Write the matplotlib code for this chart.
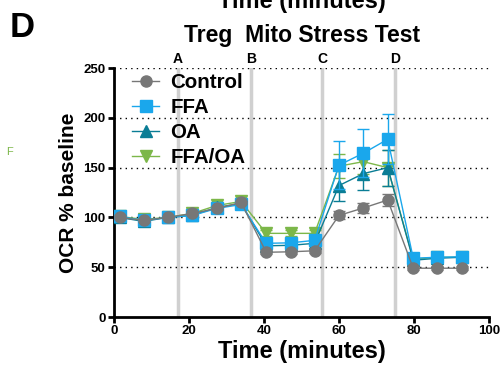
import matplotlib
matplotlib.use("Agg")
import matplotlib.pyplot as plt
from matplotlib.lines import Line2D
import numpy as np

plt.rcParams['font.family'] = ['Liberation Sans', 'DejaVu Sans']

# data
time_min = [1.5, 7.9, 14.3, 20.9, 27.4, 33.9, 40.6, 47.2, 53.5, 60.0, 66.5, 73.0, 79.8, 86.2, 92.8]
control = [100, 97, 100, 104, 109, 115, 65, 65.5, 66.5, 102, 109.5, 117.5, 49, 49, 49]
control_err = [2, 2, 0, 2, 2, 2, 2, 2, 2, 4, 5, 6, 2, 2, 2]
ffa = [101, 97, 100, 102, 109, 113, 74, 74.5, 77, 152.5, 164.5, 178.5, 59, 60, 60.5]
ffa_err = [3, 3, 0, 3, 3, 3, 4, 4, 4, 24, 24, 25, 4, 4, 4]
oa = [100, 96, 100, 102, 110, 114, 71.5, 72, 74, 132, 144, 150, 57, 59, 60]
oa_err = [2, 2, 0, 2, 2, 2, 3, 3, 3, 16, 16, 18, 3, 3, 3]
ffa_oa = [101, 98, 100, 104, 112, 116, 84, 84, 84, 151.5, 156, 150, 58, 60, 60]
ffa_oa_err = [2, 2, 0, 2, 2, 2, 3, 3, 3, 12, 12, 18, 3, 3, 3]

injections = [17.0, 36.5, 55.5, 74.9]
injection_labels = ["A", "B", "C", "D"]

fig = plt.figure(figsize=(5.01, 3.74), dpi=100)
ax = fig.add_axes([0.2275, 0.1524, 0.7485, 0.6656])

for x in injections:
    ax.axvline(x, color="#d0d0d0", lw=2.5, zorder=0)
for y in [50, 100, 150, 200, 250]:
    ax.axhline(y, color="black", lw=1, ls=(0, (1, 3)), zorder=0.5)

series = [
    ("FFA/OA", ffa_oa, ffa_oa_err, "#7cb749", "v", 1),
    ("OA", oa, oa_err, "#0a7d95", "^", 2),
    ("FFA", ffa, ffa_err, "#1aa7ec", "s", 3),
    ("Control", control, control_err, "#777777", "o", 4),
]
handles = {}
for name, vals, err, col, mk, z in series:
    ax.errorbar(time_min, vals, yerr=err, color=col, marker=mk, ms=8,
                lw=1, elinewidth=1, capsize=4, capthick=1, zorder=z + 2)
    handles[name] = Line2D([], [], color=col, marker=mk, ms=8, lw=1)

order = ["Control", "FFA", "OA", "FFA/OA"]
leg = ax.legend([handles[n] for n in order], order, loc="upper left",
                bbox_to_anchor=(0.0, 1.055), frameon=False, handlelength=1.3,
                handletextpad=0.55, labelspacing=0.3,
                prop={"weight": "bold", "size": 14.8})

ax.set_xlim(0, 100)
ax.set_ylim(0, 250)
ax.set_xticks([0, 20, 40, 60, 80, 100])
ax.set_yticks([0, 50, 100, 150, 200, 250])
for lbl in ax.get_xticklabels() + ax.get_yticklabels():
    lbl.set_fontweight("bold")
    lbl.set_fontsize(9.5)
ax.tick_params(width=2, length=4, pad=2)
ax.spines["top"].set_visible(False)
ax.spines["right"].set_visible(False)
ax.spines["left"].set_linewidth(2)
ax.spines["bottom"].set_linewidth(2)

ax.set_xlabel("Time (minutes)", fontsize=17, fontweight="bold", labelpad=2)
ax.set_ylabel("OCR % baseline", fontsize=15, fontweight="bold", labelpad=4)

for x, t in zip(injections, injection_labels):
    ax.text(x, 252, t, ha="center", va="bottom", fontsize=10, fontweight="bold")

fig.text(0.602, 0.888, "Treg  Mito Stress Test", ha="center", va="baseline",
         fontsize=16.5, fontweight="bold")
fig.text(0.602, 0.979, "Time (minutes)", ha="center", va="baseline",
         fontsize=17, fontweight="bold")
fig.text(0.02, 0.901, "D", ha="left", va="baseline", fontsize=25, fontweight="bold")
fig.text(0.018, 0.594, "F", ha="center", va="center", fontsize=8, color="#7cb749")

fig.savefig("out.png", dpi=100)
